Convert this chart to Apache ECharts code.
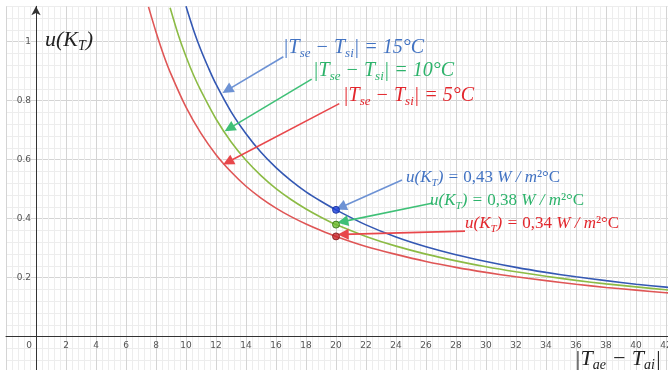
<!DOCTYPE html>
<html><head><meta charset="utf-8">
<script src="https://cdn.jsdelivr.net/npm/echarts@6/dist/echarts.min.js"></script>
<style>html,body{margin:0;padding:0;background:#fff}#c{width:668px;height:370px}</style>
</head><body><div id="c"></div>
<script>
// ---- data ----
const blueX  = [10, 10.5, 11, 11.5, 12, 13, 14, 15, 16, 17, 18, 19, 20, 22, 24, 26, 28, 30, 32, 34, 36, 38, 40, 42, 42.4];
const blueY  = [1.120, 1.040, 0.971, 0.911, 0.856, 0.763, 0.688, 0.625, 0.573, 0.529, 0.491, 0.459, 0.430, 0.379, 0.338, 0.305, 0.278, 0.255, 0.235, 0.218, 0.203, 0.190, 0.178, 0.168, 0.166];
const greenX = [8.94, 9.5, 10, 10.5, 11, 12, 13, 14, 15, 16, 17, 18, 19, 20, 22, 24, 26, 28, 30, 32, 34, 36, 38, 40, 42, 42.4];
const greenY = [1.115, 1.021, 0.950, 0.887, 0.833, 0.738, 0.661, 0.598, 0.546, 0.502, 0.465, 0.433, 0.405, 0.380, 0.340, 0.307, 0.280, 0.257, 0.237, 0.220, 0.205, 0.191, 0.179, 0.169, 0.159, 0.1575];
const redX   = [7.5, 8, 8.5, 9, 10, 11, 12, 13, 14, 15, 16, 17, 18, 19, 20, 22, 24, 26, 28, 30, 32, 34, 36, 38, 40, 42, 42.4];
const redY   = [1.118, 1.033, 0.956, 0.890, 0.778, 0.689, 0.617, 0.559, 0.510, 0.470, 0.436, 0.407, 0.382, 0.360, 0.340, 0.306, 0.279, 0.255, 0.235, 0.218, 0.203, 0.190, 0.178, 0.167, 0.158, 0.149, 0.148];
const pointX = [20, 20, 20];
const pointY = [0.43, 0.38, 0.34];
const deltaTs = ['15', '10', '5'];
const uValues = ['0,43', '0,38', '0,34'];
const xTickStep = 2;
const yTickStep = 0.2;

// ---- styling ----
const curveColors = ['#3458b3', '#8cbb45', '#df5656'];
const textColors  = ['#4172c2', '#2db36b', '#e3262c'];
const arrowColors = ['#6d92d4', '#3fc077', '#e8474b'];
const dotFill   = ['#1c3fd8', '#6bbb2e', '#c8262b'];
const dotBorder = ['#0e2a9a', '#2e6b10', '#7d1518'];
const MATH = "'Liberation Serif', serif";

function zip(xs, ys){ return xs.map((x,i)=>[x, ys[i]]); }

function richSet(color, size, subSize){
  return {
    a:{fontFamily:MATH, fontStyle:'italic', fontSize:size, color:color, lineHeight:size+4},
    s:{fontFamily:MATH, fontStyle:'italic', fontSize:subSize, color:color, lineHeight:subSize-3, verticalAlign:'bottom'},
    n:{fontFamily:MATH, fontStyle:'normal', fontSize:size, color:color, lineHeight:size+4}
  };
}
function textPoint(coord, formatter, rich){
  return {coord:coord, symbol:'circle', symbolSize:0,
    label:{show:true, position:'right', distance:0, formatter:formatter, rich:rich}};
}

// annotation layout (data coordinates)
const tsAnchors  = [[16.47, 0.978], [18.47, 0.901], [20.47, 0.816]];
const uAnchors   = [[24.67, 0.538], [26.27, 0.460], [28.6, 0.382]];
const upArrows   = [[[16.49,0.949],[12.75,0.836]], [[18.38,0.873],[12.89,0.706]], [[20.22,0.790],[12.8,0.592]]];
const lowArrows  = [[[24.4,0.531],[20.33,0.439]], [[26.47,0.453],[20.45,0.390]], [[28.6,0.358],[20.48,0.347]]];

const marks = [];
const arrows = [];
for (let i=0;i<3;i++){
  marks.push(textPoint(tsAnchors[i], '{a||T}{s|se}{a| − T}{s|si}{a|| = '+deltaTs[i]+'°C}', richSet(textColors[i], 20, 13)));
  marks.push(textPoint(uAnchors[i], '{a|u(K}{s|T}{a|) = }{n|'+uValues[i]+'}{a| W / m}{n|²°C}', richSet(textColors[i], 17, 11)));
  [upArrows[i], lowArrows[i]].forEach(a=>{
    arrows.push([{coord:a[0], lineStyle:{color:arrowColors[i], width:1.6, type:'solid'}}, {coord:a[1]}]);
  });
}
marks.push(textPoint([0.6, 1.006], '{a|u(K}{s|T}{a|)}', richSet('#222', 22, 14)));
marks.push(textPoint([35.9, -0.076], '{a||T}{s|ae}{a| − T}{s|ai}{a||}', richSet('#222', 22, 14)));

const chart = echarts.init(document.getElementById('c'), null, {renderer:'canvas'});
const gridBox = {left:6, right:-4, top:6.3, bottom:-25.7};
const xMin = -2, xMax = 42.4, yMin = -0.2, yMax = 1.12;
// pixel offsets that place each axis on the other's zero
const pxPerX = (668 - gridBox.left - gridBox.right) / (xMax - xMin);
const pxPerY = (370 - gridBox.top - gridBox.bottom) / (yMax - yMin);
const yAxisOffset = -(0 - xMin) * pxPerX;
const xAxisOffset = -(0 - yMin) * pxPerY;

const axisCommon = {
  type:'value',
  axisTick:{show:false},
  splitLine:{show:true, lineStyle:{color:'#d4d4d4', width:1}},
  minorTick:{show:false, splitNumber:5},
  minorSplitLine:{show:true, lineStyle:{color:'#ededed', width:1}}
};
chart.setOption({
  animation:false,
  backgroundColor:'#fff',
  grid:Object.assign({containLabel:false, outerBoundsMode:'none'}, gridBox),
  xAxis:Object.assign({}, axisCommon, {
    min:xMin, max:xMax, interval:xTickStep, position:'bottom', offset:xAxisOffset,
    axisLine:{show:true, onZero:false, lineStyle:{color:'#333', width:1}},
    axisLabel:{margin:4, fontSize:9, color:'#555', fontFamily:'DejaVu Sans',
      formatter:function(v){
        if (v < 0 || v > 42.01) return '';
        if (Math.abs(v/xTickStep - Math.round(v/xTickStep)) > 1e-6) return '';
        if (v === 0) return '{z|0}';
        return String(Math.round(v));
      },
      rich:{z:{fontSize:9, color:'#555', fontFamily:'DejaVu Sans', padding:[0,14,0,0]}}}
  }),
  yAxis:Object.assign({}, axisCommon, {
    min:yMin, max:yMax, interval:yTickStep, position:'left', offset:yAxisOffset,
    axisLine:{show:true, onZero:false, symbol:['none','arrow'], symbolSize:[7,9], lineStyle:{color:'#333', width:1}},
    axisLabel:{margin:5, fontSize:9, color:'#555', fontFamily:'DejaVu Sans',
      formatter:function(v){
        if (v <= 0.001 || v > 1.001) return '';
        if (Math.abs(v/yTickStep - Math.round(v/yTickStep)) > 1e-6) return '';
        const r = Math.round(v*10)/10;
        return r === 1 ? '1' : r.toFixed(1);
      }}
  }),
  series:[
    {type:'line', data:zip(blueX, blueY), smooth:0.3, showSymbol:false, lineStyle:{color:curveColors[0], width:1.6}, silent:true, z:3},
    {type:'line', data:zip(greenX, greenY), smooth:0.3, showSymbol:false, lineStyle:{color:curveColors[1], width:1.6}, silent:true, z:3},
    {type:'line', data:zip(redX, redY), smooth:0.3, showSymbol:false, lineStyle:{color:curveColors[2], width:1.6}, silent:true, z:3},
    {type:'scatter', z:5, silent:true, symbolSize:7,
      data:pointX.map((x,i)=>({value:[x, pointY[i]], itemStyle:{color:dotFill[i], borderColor:dotBorder[i], borderWidth:1}})),
      markLine:{silent:true, symbol:['none','triangle'], symbolSize:11, label:{show:false}, emphasis:{disabled:true}, data:arrows, animation:false},
      markPoint:{silent:true, data:marks, animation:false}
    }
  ]
});
</script></body></html>
